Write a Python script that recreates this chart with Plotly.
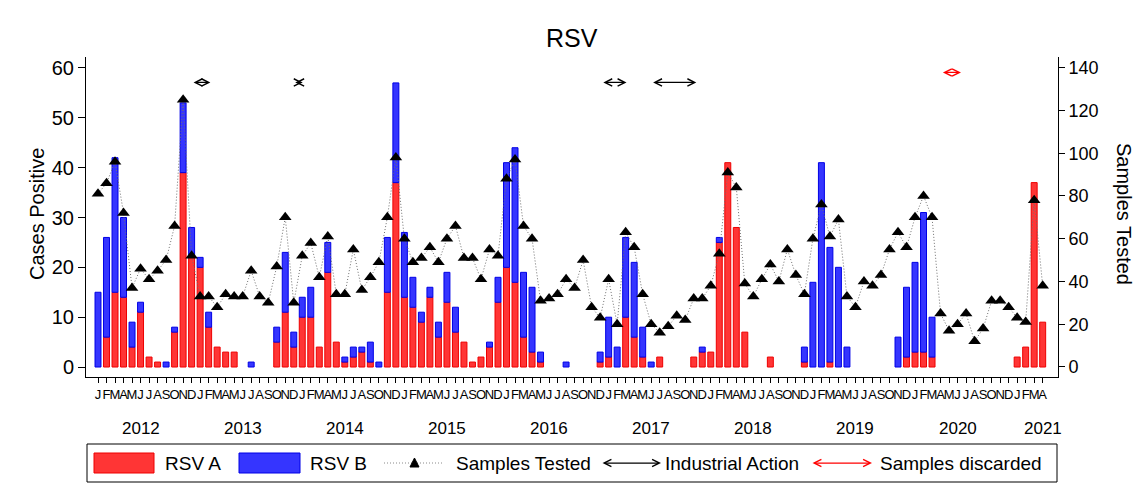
import plotly.graph_objects as go

# ---------------- data ----------------
years = [2012, 2013, 2014, 2015, 2016, 2017, 2018, 2019, 2020, 2021]
month_letters = ["J", "F", "M", "A", "M", "J", "J", "A", "S", "O", "N", "D"]

rsv_a = [0, 6, 15, 14, 4, 11, 2, 1, 0, 7, 39, 22,      # 2012
         20, 8, 4, 3, 3, 0, 0, 0, 0, 5, 11, 4,         # 2013
         10, 10, 4, 19, 5, 1, 2, 3, 1, 0, 15, 37,      # 2014
         14, 12, 9, 14, 6, 13, 7, 5, 1, 2, 4, 13,      # 2015
         20, 17, 6, 3, 1, 0, 0, 0, 0, 0, 0, 1,         # 2016
         2, 0, 10, 6, 2, 0, 2, 0, 0, 0, 2, 3,          # 2017
         3, 25, 41, 28, 7, 0, 0, 2, 0, 0, 0, 1,        # 2018
         0, 0, 1, 0, 0, 0, 0, 0, 0, 0, 0, 2,           # 2019
         3, 3, 2, 0, 0, 0, 0, 0, 0, 0, 0, 0,           # 2020
         2, 4, 37, 9]                                  # 2021

rsv_b = [15, 20, 27, 16, 5, 2, 0, 0, 1, 1, 14, 6,
         2, 3, 0, 0, 0, 0, 1, 0, 0, 3, 12, 3,
         4, 6, 0, 6, 0, 1, 2, 1, 4, 1, 11, 20,
         13, 6, 2, 2, 3, 6, 5, 0, 0, 0, 1, 5,
         21, 27, 13, 13, 2, 0, 0, 1, 0, 0, 0, 2,
         8, 4, 16, 15, 6, 1, 0, 0, 0, 0, 0, 1,
         0, 1, 0, 0, 0, 0, 0, 0, 0, 0, 0, 3,
         17, 41, 23, 20, 4, 0, 0, 0, 0, 0, 6, 14,
         18, 28, 8, 0, 0, 0, 0, 0, 0, 0, 0, 0,
         0, 0, 0, 0]

samples_tested = [81, 86, 96, 72, 37, 46, 41, 45, 50, 66, 125, 52,
                  33, 33, 28, 34, 33, 33, 45, 33, 30, 47, 70, 30,
                  52, 58, 42, 61, 34, 34, 55, 36, 42, 49, 70, 98,
                  60, 49, 51, 56, 49, 60, 66, 51, 51, 41, 55, 52,
                  88, 97, 66, 60, 31, 32, 34, 41, 37, 50, 28, 23,
                  41, 20, 63, 56, 34, 20, 16, 19, 24, 22, 32, 32,
                  38, 53, 91, 84, 39, 33, 41, 48, 40, 55, 43, 34,
                  60, 76, 61, 69, 33, 28, 40, 38, 43, 55, 63, 56,
                  70, 80, 70, 25, 17, 20, 25, 12, 18, 31, 31, 28,
                  23, 21, 78, 38]

# periods, in month index (0 = Jan 2012)
industrial_start = [11.05, 23.0, 59.2, 65.05]
industrial_end = [13.2, 24.05, 62.1, 70.3]
industrial_level = 57.1
discard_start = [99.1]
discard_end = [101.4]
discard_level = 59.1

# year label positions (month index)
year_label_pos = [5, 17, 29, 41, 53, 65, 77, 89, 101, 111]

n_months = len(rsv_a)
month_idx = list(range(n_months))
month_ticktext = [month_letters[i % 12] for i in month_idx]

FONT = "Liberation Sans, Arial, sans-serif"
RED_FILL, RED_LINE = "#ff3535", "#ee0000"
BLUE_FILL, BLUE_LINE = "#3535ff", "#0000e6"

# page geometry: the html body adds an 8px margin
OFF = 8
W, H = 1143 - 2 * OFF, 501 - 2 * OFF
L, T = 86 - OFF, 57 - OFF
PW, PH = 972, 320
R = W - L - PW
B = H - T - PH


def px(xs):   # screen x -> paper
    return (xs - OFF - L) / PW


def py(ys):   # screen y -> paper
    return (OFF + T + PH - ys) / PH


fig = go.Figure()

fig.add_trace(go.Bar(
    x=month_idx, y=[v if v else None for v in rsv_a],
    width=0.7, marker=dict(color=RED_FILL, line=dict(color=RED_LINE, width=1)),
    name="RSV A", showlegend=False))

fig.add_trace(go.Bar(
    x=month_idx, y=[v if v else None for v in rsv_b], base=rsv_a,
    width=0.7, marker=dict(color=BLUE_FILL, line=dict(color=BLUE_LINE, width=1)),
    name="RSV B", showlegend=False))

fig.add_trace(go.Scatter(
    x=month_idx, y=samples_tested, yaxis="y2", mode="lines+markers",
    line=dict(color="#707070", dash="1px,2px", width=1),
    marker=dict(symbol="triangle-up", size=11, color="black"),
    name="Samples Tested", showlegend=False))

ARROW_KW = dict(text=" ", font=dict(size=1), showarrow=True,
                arrowside="end+start", arrowhead=5, startarrowhead=5,
                arrowsize=1.15, startarrowsize=1.15, arrowwidth=1.25,
                standoff=0, startstandoff=0)


def add_arrow(x0, x1, yv, color):
    fig.add_annotation(x=x1, y=yv, ax=x0, ay=yv, xref="x", yref="y",
                       axref="x", ayref="y", arrowcolor=color, **ARROW_KW)


for s, e in zip(industrial_start, industrial_end):
    add_arrow(s, e, industrial_level, "black")
for s, e in zip(discard_start, discard_end):
    add_arrow(s, e, discard_level, "red")

# year labels
for yr, pos in zip(years, year_label_pos):
    fig.add_annotation(x=pos, y=py(428), xref="x", yref="paper", text=str(yr),
                       showarrow=False, font=dict(size=17, color="black", family=FONT),
                       xanchor="center", yanchor="middle")

# axis titles and chart title
fig.add_annotation(x=px(37), y=py(214), xref="paper", yref="paper", text="Cases Positive",
                   textangle=-90, showarrow=False, xanchor="center", yanchor="middle",
                   font=dict(size=20, color="black", family=FONT))
fig.add_annotation(x=px(1124), y=py(214), xref="paper", yref="paper", text="Samples Tested",
                   textangle=90, showarrow=False, xanchor="center", yanchor="middle",
                   font=dict(size=20, color="black", family=FONT))
fig.add_annotation(x=px(572), y=py(38), xref="paper", yref="paper", text="RSV",
                   showarrow=False, xanchor="center", yanchor="middle",
                   font=dict(size=25, color="black", family=FONT))

# ---------------- custom legend ----------------
shapes = []
shapes.append(dict(type="rect", xref="paper", yref="paper", x0=px(87), x1=px(1057),
                   y0=py(482), y1=py(444), line=dict(color="black", width=1), fillcolor="white"))
shapes.append(dict(type="rect", xref="paper", yref="paper", x0=px(94), x1=px(154),
                   y0=py(473), y1=py(453), line=dict(color=RED_LINE, width=1), fillcolor=RED_FILL))
shapes.append(dict(type="rect", xref="paper", yref="paper", x0=px(239), x1=px(300),
                   y0=py(473), y1=py(453), line=dict(color=BLUE_LINE, width=1), fillcolor=BLUE_FILL))
shapes.append(dict(type="line", xref="paper", yref="paper", x0=px(384), x1=px(443),
                   y0=py(463), y1=py(463), line=dict(color="#8a8a8a", width=1, dash="1px,2px")))
tri = "M {:.5f},{:.5f} L {:.5f},{:.5f} L {:.5f},{:.5f} Z".format(
    px(410), py(467), px(419), py(467), px(414.5), py(458))
shapes.append(dict(type="path", xref="paper", yref="paper", path=tri,
                   fillcolor="black", line=dict(color="black", width=1)))

legend_texts = [("RSV A", 163), ("RSV B", 308), ("Samples Tested", 454),
                ("Industrial Action", 663), ("Samples discarded", 878)]
for txt, xs in legend_texts:
    fig.add_annotation(x=px(xs), y=py(463), xref="paper", yref="paper", text=txt,
                       showarrow=False, xanchor="left", yanchor="middle",
                       font=dict(size=19, color="black", family=FONT))

for (x0, x1, col) in [(601, 661, "black"), (811, 872, "red")]:
    fig.add_annotation(x=px(x1), y=py(463), xref="paper", yref="paper",
                       ax=-(x1 - x0), ay=0, axref="pixel", ayref="pixel",
                       arrowcolor=col, **ARROW_KW)

fig.update_layout(
    width=W, height=H,
    margin=dict(l=L, r=R, t=T, b=B, pad=0, autoexpand=False),
    paper_bgcolor="white", plot_bgcolor="white",
    barmode="overlay",
    showlegend=False,
    font=dict(family=FONT, color="black"),
    shapes=shapes,
    xaxis=dict(range=[-1.41, 112.8], tickmode="array", tickvals=month_idx,
               ticktext=month_ticktext, tickangle=0, ticks="outside", ticklen=5,
               tickwidth=1, tickcolor="black", showline=True, linecolor="black",
               linewidth=1, showgrid=False, zeroline=False, automargin=False,
               tickfont=dict(size=13, family=FONT, color="black")),
    yaxis=dict(range=[-2.0, 62.2], tickmode="array", tickvals=[0, 10, 20, 30, 40, 50, 60],
               ticks="outside", ticklen=7, tickwidth=1, tickcolor="black",
               showline=True, linecolor="black", linewidth=1, showgrid=False,
               zeroline=False, automargin=False,
               tickfont=dict(size=20, family=FONT, color="black")),
    yaxis2=dict(range=[-4.68, 145.0], overlaying="y", side="right", tickmode="array",
                tickvals=[0, 20, 40, 60, 80, 100, 120, 140], ticks="outside", ticklen=6,
                tickwidth=1, tickcolor="black", showline=True, linecolor="black",
                linewidth=1, showgrid=False, zeroline=False, automargin=False,
                tickfont=dict(size=18, family=FONT, color="black")),
)

fig.write_html("out.html")
